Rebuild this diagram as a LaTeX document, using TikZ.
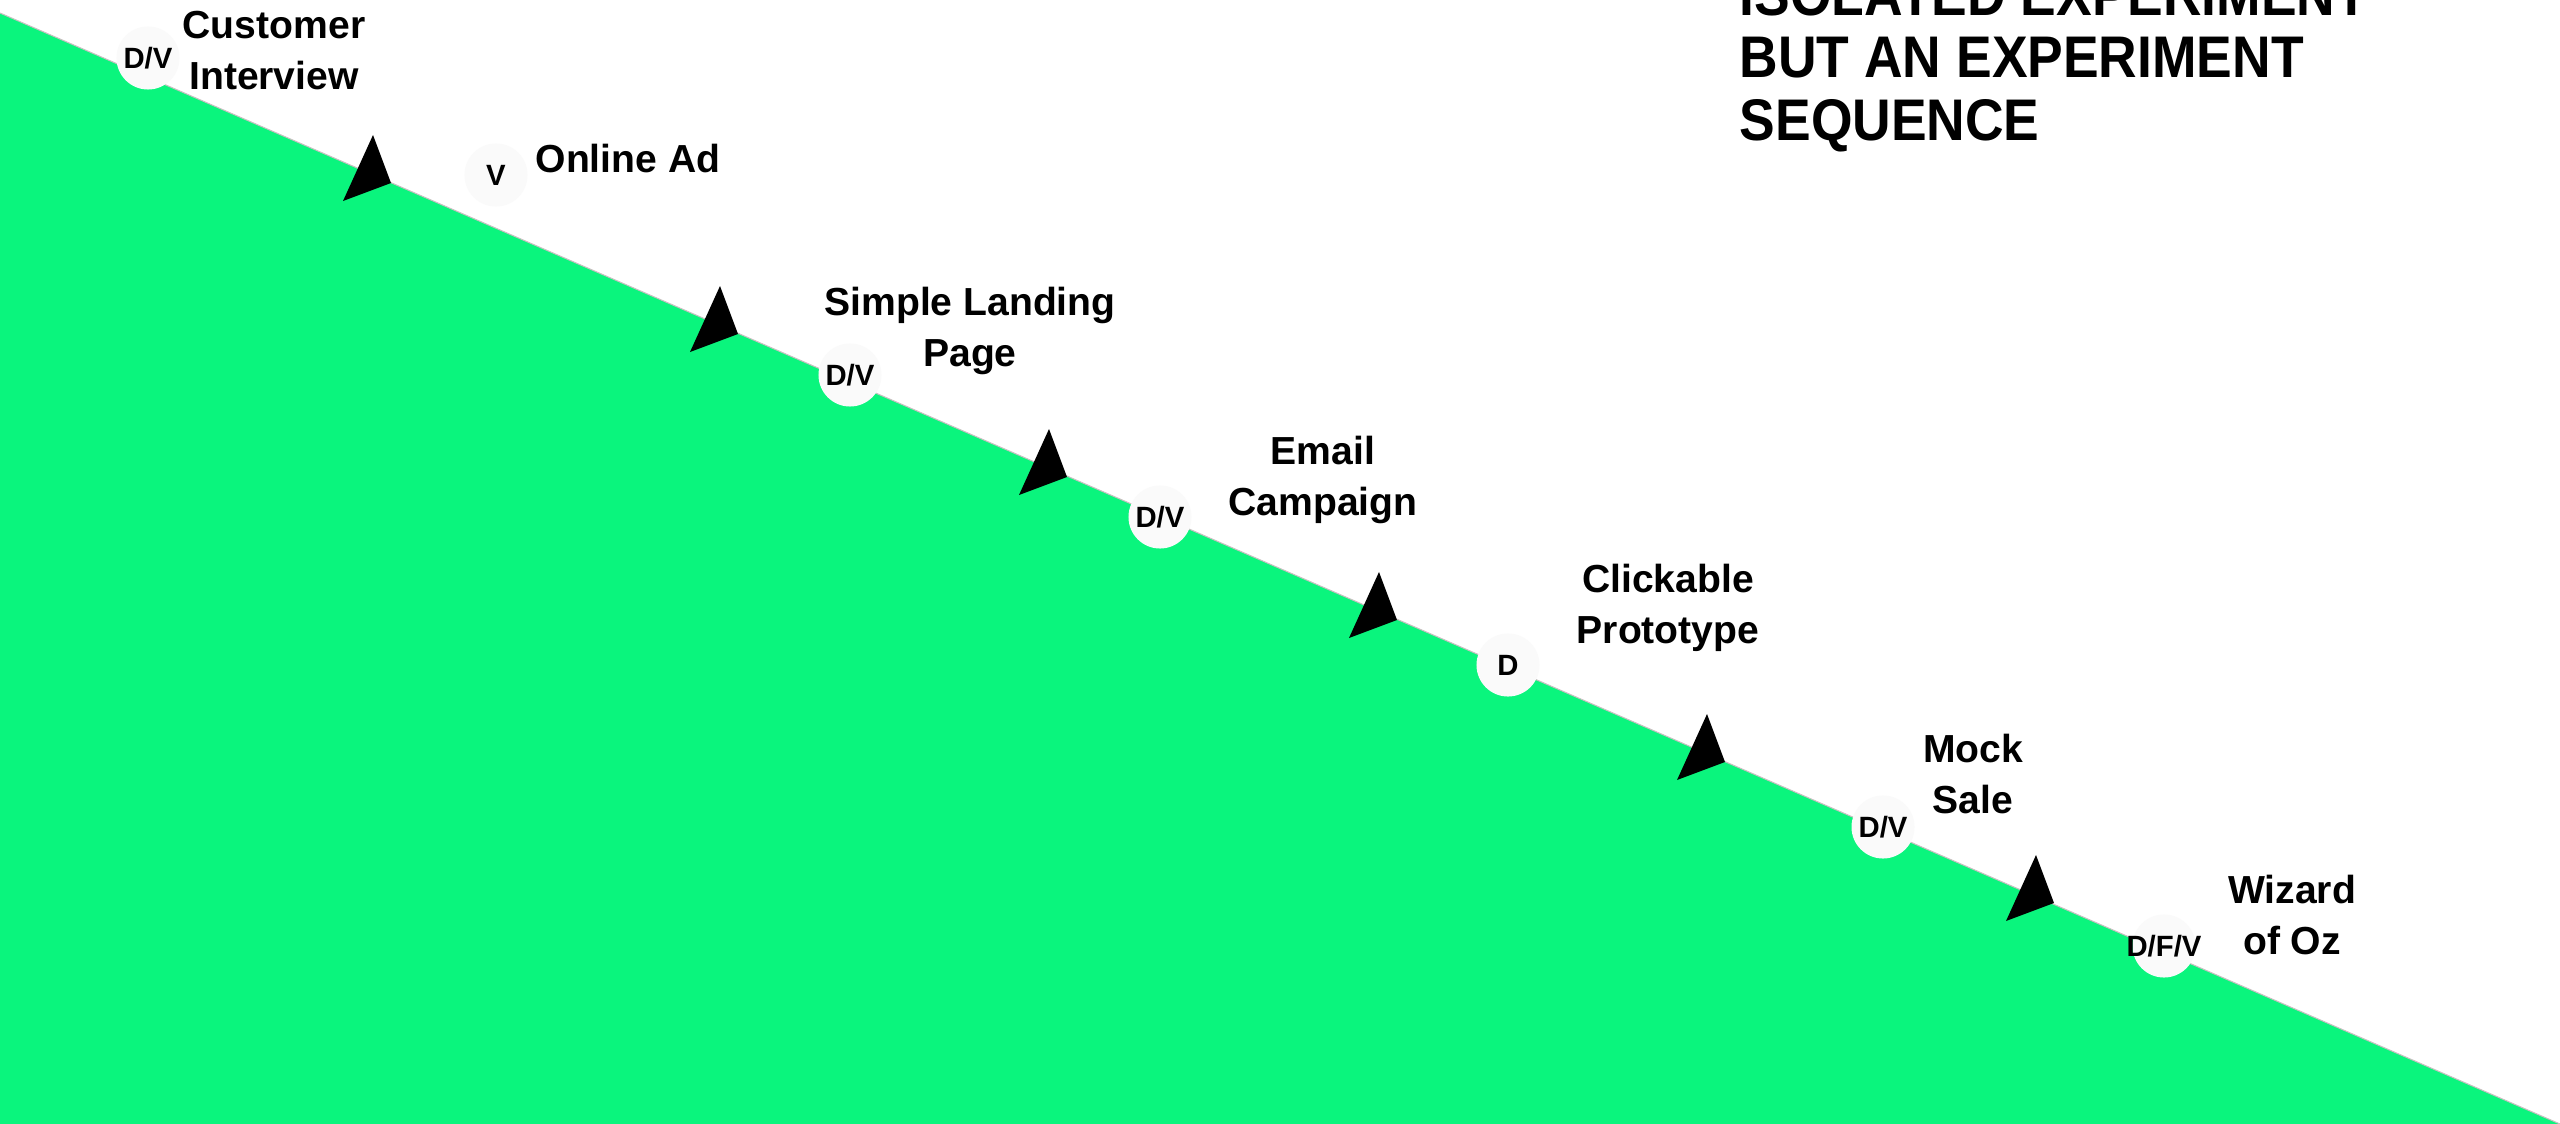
\documentclass[tikz,border=0pt]{standalone}
\usepackage{fontspec}
\setmainfont{Liberation Sans}
\newfontfamily\titlefont[FakeStretch=0.91]{Liberation Sans}
\definecolor{seqgreen}{RGB}{10,245,125}
\definecolor{dotfill}{RGB}{250,250,250}
\definecolor{edgegray}{RGB}{200,192,192}
% centred two-line label whose baseline is the first line's baseline
\newcommand\twolines[2]{\vtop{\halign{\hfil##\hfil\cr#1\cr#2\cr}}}
% left-aligned three-line heading, baseline on the first line
\newcommand\threelines[3]{\vtop{\halign{##\hfil\cr#1\cr#2\cr#3\cr}}}
\begin{document}
\begin{tikzpicture}[
  x=0.01cm, y=-0.01cm,
  stepdot/.style={circle, fill=dotfill, minimum size=0.63cm, inner sep=0pt,
    font=\bfseries\fontsize{8.34}{10}\selectfont},
  steplabel/.style={anchor=base, inner sep=0pt,
    font=\bfseries\fontsize{11.12}{14.51}\selectfont},
  heading/.style={anchor=base west, inner sep=0pt,
    font=\titlefont\bfseries\fontsize{16.7}{17.78}\selectfont},
  seqtri/.pic={\fill[black] (0,0) -- (-18,-48) -- (-48,18) -- cycle;}
]
\useasboundingbox (0,0) rectangle (2560,1124);
\clip (0,0) rectangle (2560,1124);
\fill[white] (0,0) rectangle (2560,1124);

% green field below the sequence line
\coordinate (lineA) at (0,13);
\coordinate (lineB) at (2560,1124);
\fill[seqgreen] (lineA) -- (lineB) -- (0,1124) -- cycle;
\draw[edgegray, line width=0.3pt] (lineA) -- (lineB);

% arrow markers sitting on the line
\coordinate (t1) at (391,183);
\coordinate (t2) at (738,334);
\coordinate (t3) at (1067,477);
\coordinate (t4) at (1397,620);
\coordinate (t5) at (1725,762);
\coordinate (t6) at (2054,903);
\foreach \t in {t1,t2,t3,t4,t5,t6} \pic at (\t) {seqtri};

% experiment type badges
\node[stepdot] (c1) at (148,58)   {\makebox[0pt]{D/V}};
\node[stepdot] (c2) at (496,175)  {\makebox[0pt]{V}};
\node[stepdot] (c3) at (850,375)  {\makebox[0pt]{D/V}};
\node[stepdot] (c4) at (1160,517) {\makebox[0pt]{D/V}};
\node[stepdot] (c5) at (1508,665) {\makebox[0pt]{D}};
\node[stepdot] (c6) at (1883,827) {\makebox[0pt]{D/V}};
\node[stepdot] (c7) at (2164,946) {\makebox[0pt]{D/F/V}};

% experiment names
\node[steplabel] (l1) at (274,38)   {\twolines{Customer}{Interview}};
\node[steplabel] (l2) at (628,172)  {Online Ad};
\node[steplabel] (l3) at (970,315)  {\twolines{Simple Landing}{Page}};
\node[steplabel] (l4) at (1323,464) {\twolines{Email}{Campaign}};
\node[steplabel] (l5) at (1668,592) {\twolines{Clickable}{Prototype}};
\node[steplabel] (l6) at (1973,762) {\twolines{Mock}{Sale}};
\node[steplabel] (l7) at (2292,903) {\twolines{Wizard}{of Oz}};

% heading
\node[heading] (title) at (1739,15)
  {\threelines{ISOLATED EXPERIMENT}{BUT AN EXPERIMENT}{SEQUENCE}};
\end{tikzpicture}
\end{document}
